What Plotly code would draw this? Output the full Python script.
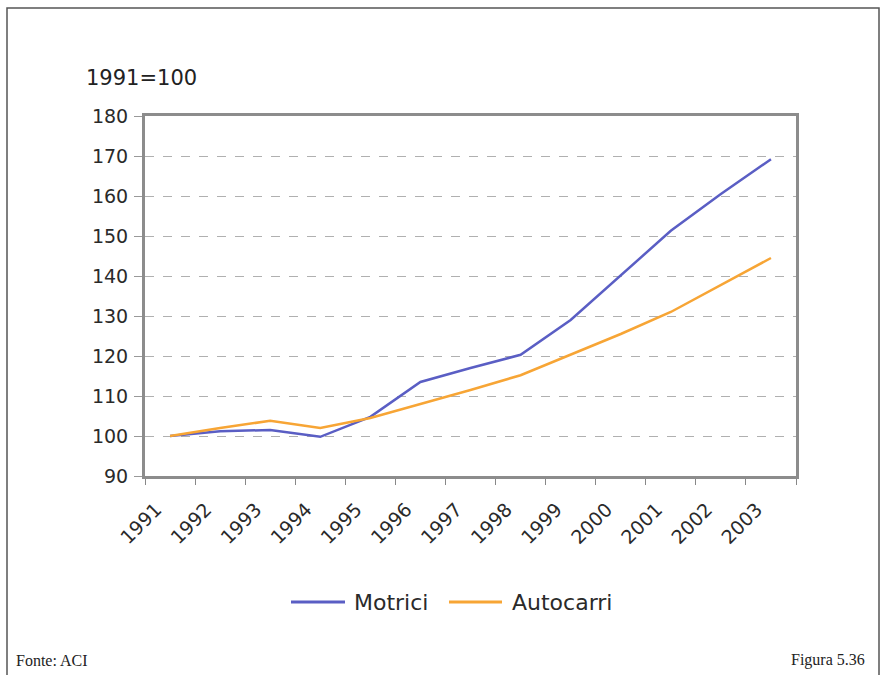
import plotly.graph_objects as go

# Index 1991 = 100
years = ["1991", "1992", "1993", "1994", "1995", "1996", "1997",
         "1998", "1999", "2000", "2001", "2002", "2003"]
motrici = [100, 101.2, 101.5, 99.8, 104.8, 113.5, 117, 120.3, 129, 140.2, 151.3, 160.5, 169.2]
autocarri = [100, 102, 103.8, 102, 104.5, 108, 111.5, 115.2, 120.3, 125.5, 131, 137.8, 144.5]

series_names = ["Motrici", "Autocarri"]
series_colors = ["#5a5ec4", "#f7a535"]

W, H = 885, 675
L, R, T, B = 145, 796, 116, 476  # plot area in pixels

def px(x):
    return (x - L) / (R - L)

def py(y):
    return (B - y) / (B - T)

tick_font = dict(family="DejaVu Sans", size=19, color="#2a2a2a")

fig = go.Figure()
for name, vals, col in zip(series_names, [motrici, autocarri], series_colors):
    fig.add_trace(go.Scatter(x=years, y=vals, mode="lines", name=name,
                             line=dict(color=col, width=2.5), showlegend=False))

# legend row below the chart: long line samples followed by the series name
legend_items = [(291, 345, 352), (449, 502, 510)]
shapes = []
annotations = []
for (x0, x1, xt), name, col in zip(legend_items, series_names, series_colors):
    shapes.append(dict(type="line", xref="paper", yref="paper",
                       x0=px(x0), x1=px(x1), y0=py(602), y1=py(602),
                       line=dict(color=col, width=3)))
    annotations.append(dict(text=name, xref="paper", yref="paper", x=px(xt), y=py(602),
                            xanchor="left", yanchor="middle", showarrow=False,
                            font=dict(family="DejaVu Sans", size=22, color="#2a2a2a")))

# outer frame (open at the bottom)
shapes.append(dict(type="path", xref="paper", yref="paper",
                   path=f"M {px(7)} {py(690)} L {px(7)} {py(8)} L {px(879)} {py(8)} L {px(879)} {py(690)}",
                   line=dict(color="#555555", width=1.5)))

annotations += [
    dict(text="1991=100", xref="paper", yref="paper", x=px(84), y=py(78),
         xanchor="left", yanchor="middle", showarrow=False,
         font=dict(family="DejaVu Sans", size=21, color="#222222")),
    dict(text="Fonte: ACI", xref="paper", yref="paper", x=px(14), y=py(660),
         xanchor="left", yanchor="middle", showarrow=False,
         font=dict(family="Liberation Serif", size=16, color="#222222")),
    dict(text="Figura 5.36", xref="paper", yref="paper", x=px(867), y=py(660),
         xanchor="right", yanchor="middle", showarrow=False,
         font=dict(family="Liberation Serif", size=16, color="#222222")),
]

fig.update_layout(
    width=W, height=H,
    margin=dict(l=L, r=W - R, t=T, b=H - B),
    paper_bgcolor="white", plot_bgcolor="white",
    showlegend=False,
    xaxis=dict(type="category", range=[-0.5, len(years) - 0.5],
               tickson="boundaries", ticks="outside", ticklen=6, tickcolor="#888888",
               tickangle=-45, tickfont=tick_font,
               ticklabelshift=-14, ticklabelstandoff=12,
               showline=True, linecolor="#8c8c8c", linewidth=3, mirror=True,
               showgrid=False, zeroline=False),
    yaxis=dict(range=[90, 180], dtick=10, tick0=90,
               ticks="outside", ticklen=8, tickcolor="#999999",
               tickfont=tick_font, ticklabelstandoff=2,
               showline=True, linecolor="#8c8c8c", linewidth=3, mirror=True,
               showgrid=True, gridcolor="#b0b0b0", gridwidth=1, griddash="dash",
               zeroline=False),
    annotations=annotations,
    shapes=shapes,
)

fig.write_html("out.html")
